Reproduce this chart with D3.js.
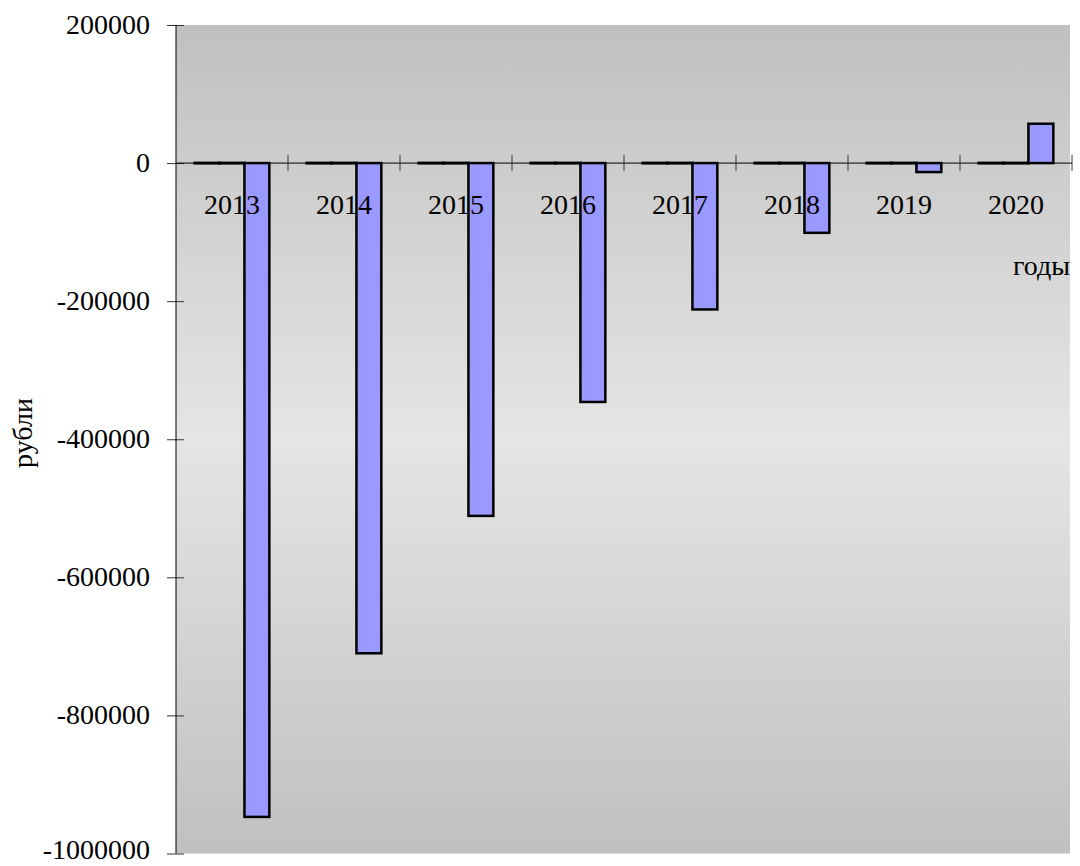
<!DOCTYPE html>
<html>
<head>
<meta charset="utf-8">
<script src="https://cdn.jsdelivr.net/npm/d3@7"></script>
<style>
  body { margin: 0; background: #fff; }
  svg text { font-family: "Liberation Serif", "Times New Roman", serif; fill: #000; }
</style>
</head>
<body>
<svg id="chart"></svg>
<script>
// DATA
const years = ["2013", "2014", "2015", "2016", "2017", "2018", "2019", "2020"];
const seriesNames = ["s1", "s2", "s3"];
const s1Values = [0, 0, 0, 0, 0, 0, 0, 0];
const s2Values = [0, 0, 0, 0, 0, 0, 0, 0];
const s3Values = [-947000, -710000, -511000, -346000, -212000, -101000, -13000, 57000];
const yTicks = [200000, 0, -200000, -400000, -600000, -800000, -1000000];

const width = 1080, height = 866;
const plot = { left: 176, right: 1072, top: 25, bottom: 853.5 };

const rows = years.map((y, i) => ({
  year: y,
  values: [
    { key: "s1", v: s1Values[i] },
    { key: "s2", v: s2Values[i] },
    { key: "s3", v: s3Values[i] }
  ]
}));

const svg = d3.select("#chart")
  .attr("width", width)
  .attr("height", height);

// BACKGROUND GRADIENT
const grad = svg.append("defs").append("linearGradient")
  .attr("id", "bg")
  .attr("x1", 0).attr("y1", 0).attr("x2", 0).attr("y2", 1);
grad.append("stop").attr("offset", "0%").attr("stop-color", "#c0c0c0");
grad.append("stop").attr("offset", "50%").attr("stop-color", "#e5e5e5");
grad.append("stop").attr("offset", "100%").attr("stop-color", "#c0c0c0");

svg.append("rect")
  .attr("x", plot.left)
  .attr("y", plot.top)
  .attr("width", plot.right - 2 - plot.left)
  .attr("height", plot.bottom - plot.top)
  .attr("fill", "url(#bg)");

// SCALES
const x0 = d3.scaleBand()
  .domain(years)
  .range([plot.left, plot.right])
  .padding(0);

const x1 = d3.scaleBand()
  .domain(seriesNames)
  .range([0, x0.bandwidth()])
  .paddingInner(0)
  .paddingOuter(0.75);

const yScale = d3.scaleLinear()
  .domain([-1000000, 200000])
  .range([plot.bottom, plot.top]);

// Y AXIS
const yAxis = svg.append("g")
  .attr("transform", `translate(${plot.left}, 0)`)
  .call(d3.axisLeft(yScale).tickValues(yTicks).tickSize(9).tickFormat(d => String(d)));
yAxis.select(".domain").remove();
yAxis.selectAll(".tick line")
  .attr("x1", 8)
  .attr("x2", -9)
  .attr("stroke", "#333");
yAxis.selectAll(".tick text")
  .attr("x", -26)
  .attr("dy", "0.3em")
  .attr("font-size", 28)
  .attr("font-family", "Liberation Serif");
// keep the lowest label inside the window
yAxis.selectAll(".tick text")
  .filter(d => d === -1000000)
  .attr("y", -3);

svg.append("line")
  .attr("x1", plot.left).attr("x2", plot.left)
  .attr("y1", plot.top).attr("y2", plot.bottom)
  .attr("stroke", "#000");

// X AXIS LINE + CROSSING TICKS
svg.append("line")
  .attr("x1", plot.left).attr("x2", plot.right)
  .attr("y1", yScale(0)).attr("y2", yScale(0))
  .attr("stroke", "#000");

svg.selectAll("line.x-tick")
  .data(years)
  .join("line")
  .attr("class", "x-tick")
  .attr("x1", d => x0(d) + x0.bandwidth())
  .attr("x2", d => x0(d) + x0.bandwidth())
  .attr("y1", yScale(0) - 8)
  .attr("y2", yScale(0) + 8)
  .attr("stroke", "#333");

// BARS (zero-valued bars still get a sliver so their outline shows)
const groups = svg.selectAll("g.year")
  .data(rows)
  .join("g")
  .attr("class", "year")
  .attr("transform", d => `translate(${x0(d.year)}, 0)`);

groups.selectAll("rect")
  .data(d => d.values)
  .join("rect")
  .attr("x", d => x1(d.key))
  .attr("width", x1.bandwidth())
  .attr("y", d => Math.min(yScale(d.v), yScale(0)) - (d.v === 0 ? 0.25 : 0))
  .attr("height", d => Math.max(Math.abs(yScale(d.v) - yScale(0)), 0.5))
  .attr("fill", "#9999ff")
  .attr("stroke", "#000")
  .attr("stroke-width", 2.5);

// CATEGORY LABELS
svg.selectAll("text.year-label")
  .data(years)
  .join("text")
  .attr("class", "year-label")
  .attr("x", d => x0(d) + x0.bandwidth() / 2)
  .attr("y", 214)
  .attr("text-anchor", "middle")
  .attr("font-size", 28)
  .text(d => d);

// AXIS TITLES
svg.append("text")
  .attr("x", 1013)
  .attr("y", 275)
  .attr("font-size", 28)
  .text("годы");

svg.append("text")
  .attr("transform", "translate(32, 433) rotate(-90)")
  .attr("text-anchor", "middle")
  .attr("font-size", 28)
  .text("рубли");
</script>
</body>
</html>
